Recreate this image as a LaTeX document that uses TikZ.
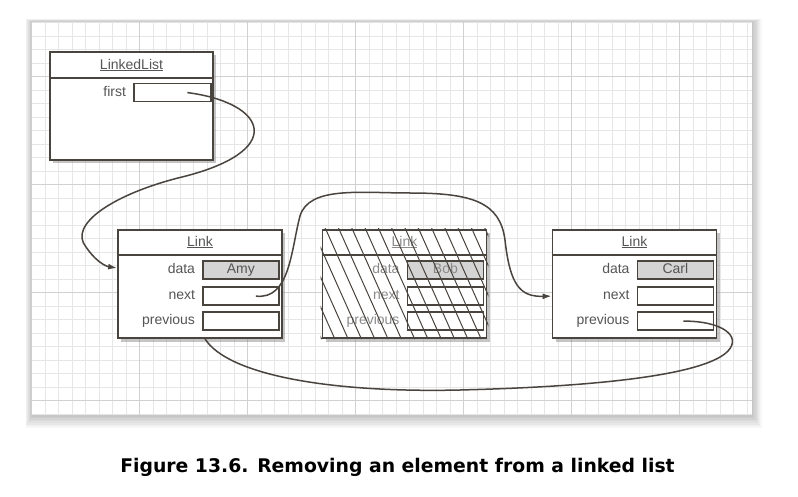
\documentclass[tikz,border=0pt]{standalone}
\usepackage{fontspec}
\setmainfont{Liberation Sans}
\newfontfamily\capfont{DejaVu Sans}
\usetikzlibrary{positioning,shadows,calc,arrows.meta}

\definecolor{boxline}{HTML}{4A443F}
\definecolor{gridminor}{HTML}{E6E6E6}
\definecolor{gridmajor}{HTML}{D0D0D0}
\definecolor{datafill}{HTML}{D4D4D4}
\definecolor{labeltext}{HTML}{555555}
\definecolor{deadtext}{HTML}{8A8A8A}

\tikzset{
  objbox/.style={draw=boxline, line width=1.8pt, fill=white, minimum width=164pt,
    minimum height=108pt, inner sep=0pt,
    drop shadow={shadow xshift=3pt, shadow yshift=-3.5pt, opacity=0.45}},
  fieldbox/.style={draw=boxline, line width=1.4pt, fill=white, minimum width=76pt,
    minimum height=18pt, inner sep=0pt, text height=10pt, text depth=3pt},
  datafield/.style={fieldbox, fill=datafill},
  fieldlabel/.style={anchor=east, inner sep=0pt, text height=10pt, text depth=3pt},
  titletext/.style={inner sep=0pt},
  ptr/.style={draw=boxline, line width=1.5pt},
  ptrarrow/.style={ptr, -{Latex[length=9pt,width=6pt]}},
  hatch/.style={draw=boxline, line width=1pt},
}

\begin{document}
\begin{tikzpicture}[x=1pt, y=-1pt, font=\fontsize{14}{16}\selectfont, text=labeltext]
        \useasboundingbox (0,0) rectangle (798,497);

        % Panel shadow
        \foreach \s in {2,4,...,16}
            \fill[black, opacity=0.03] (32-\s*0.4, 22-\s*0.2) rectangle (752+\s*0.6, 415+\s*0.8);
        \fill[white] (32,22) rectangle (752,415);

        % Grid
        \foreach \k in {0,...,53}
            \draw[gridminor, line width=0.6pt] (31.5+13.5*\k, 22) -- (31.5+13.5*\k, 415);
        \foreach \k in {0,...,29}
            \draw[gridminor, line width=0.6pt] (32, 22.5+13.5*\k) -- (752, 22.5+13.5*\k);
        \foreach \k in {0,...,6}
            \draw[gridmajor, line width=0.9pt] (31.5+108*\k, 22) -- (31.5+108*\k, 415);
        \foreach \k in {0,...,3}
            \draw[gridmajor, line width=0.9pt] (32, 76.5+108*\k) -- (752, 76.5+108*\k);

        % LinkedList object
        \node[objbox, minimum width=163pt] (list) at (131.5,106) {};
        \draw[boxline, line width=1.3pt] ($(list.north west)+(0,27)$) -- ($(list.north east)+(0,27)$);
        \node[titletext] (list-title) at ($(list.north)+(0,14)$) {\underline{LinkedList}};
        \node[fieldbox, minimum width=77pt] (first) at ($(list.north east)+(-41.5,41.5)$) {};
        \node[fieldlabel] (first-label) at ($(first.west)+(-7,0)$) {first};

        % Link objects
        \foreach \nm/\cx/\val/\col in {amy/200/Amy/labeltext, bob/404.5/Bob/deadtext, carl/634.5/Carl/labeltext} {
            \node[objbox] (\nm) at (\cx,284) {};
            \draw[boxline, line width=1.3pt] ($(\nm.north west)+(0,26)$) -- ($(\nm.north east)+(0,26)$);
            \node[titletext, text=\col] (\nm-title) at ($(\nm.north)+(0,13)$) {\underline{Link}};
            \node[datafield, text=\col] (\nm-data) at ($(\nm.north east)+(-42,41)$) {\val};
            \node[fieldbox] (\nm-next) at ($(\nm.north east)+(-42,67)$) {};
            \node[fieldbox] (\nm-prev) at ($(\nm.north east)+(-42,92)$) {};
            \node[fieldlabel, text=\col] at ($(\nm-data.west)+(-7,0)$) {data};
            \node[fieldlabel, text=\col] at ($(\nm-next.west)+(-7,0)$) {next};
            \node[fieldlabel, text=\col] at ($(\nm-prev.west)+(-7,0)$) {previous};
        }

        % Removed element hatching
        \begin{scope}
            \clip ([shift={(-0.9pt,0.9pt)}]bob.north west) rectangle ([shift={(0.9pt,-0.9pt)}]bob.south east);
            \foreach \i in {0,...,17}
                \draw[hatch] ($(bob.north west)+(-50+13.3*\i,-2)$) -- ++(50,112);
        \end{scope}

        % Pointers
        \draw[ptrarrow] ([xshift=15pt]first.center) .. controls (268,103) and (288,152) .. (178,178)
            .. controls (112,195) and (68,225) .. (86,247) .. controls (94,259) and (104,266) .. ([yshift=16pt]amy.west);
        \draw[ptrarrow] ([xshift=15pt]amy-next.center) .. controls (290,300) and (291,250) .. (300,216)
            .. controls (309,186) and (360,193) .. (410,193) .. controls (472,193) and (500,202) .. (505,240)
            .. controls (510,285) and (520,297) .. (carl.west |- carl-next);
        \draw[ptr] ([xshift=8pt]carl-prev.center) .. controls (722,321) and (742,336) .. (728,351)
            .. controls (708,372) and (620,386) .. (460,390) .. controls (330,393) and (228,375) .. ([xshift=5pt]amy.south);

        % Caption
        \node[font=\capfont\bfseries\fontsize{18.8}{22}\selectfont, text=black] (caption) at (397.5,467)
            {Figure 13.6. Removing an element from a linked list};
\end{tikzpicture}
\end{document}
